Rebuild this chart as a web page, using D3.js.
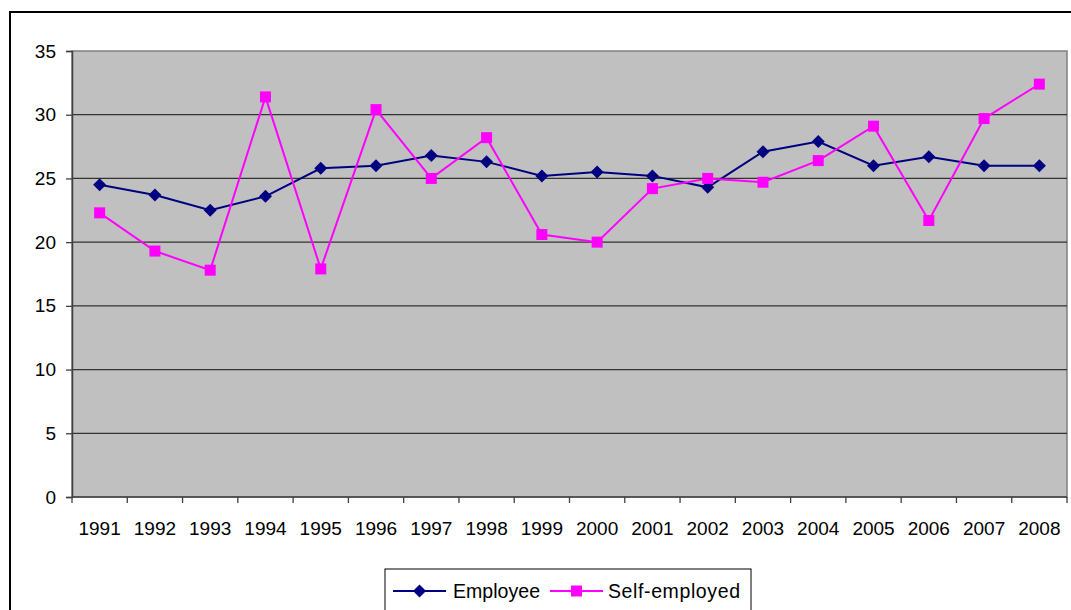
<!DOCTYPE html>
<html>
<head>
<meta charset="utf-8">
<script src="https://cdn.jsdelivr.net/npm/d3@7"></script>
<style>
  body { margin: 0; background: #fff; }
  text { font-family: "Liberation Sans", Arial, sans-serif; }
</style>
</head>
<body>
<script>
// chart data
const years = ['1991','1992','1993','1994','1995','1996','1997','1998','1999',
  '2000','2001','2002','2003','2004','2005','2006','2007','2008'];
const employee = [24.5, 23.7, 22.5, 23.6, 25.8, 26.0, 26.8, 26.3, 25.2,
  25.5, 25.2, 24.3, 27.1, 27.9, 26.0, 26.7, 26.0, 26.0];
const selfEmployed = [22.3, 19.3, 17.8, 31.4, 17.9, 30.4, 25.0, 28.2, 20.6,
  20.0, 24.2, 25.0, 24.7, 26.4, 29.1, 21.7, 29.7, 32.4];
const yTicks = [0, 5, 10, 15, 20, 25, 30, 35];
const seriesNames = ['Employee', 'Self-employed'];

const W = 1071, H = 610;
const plot = { left: 72, top: 51, right: 1067, bottom: 497 };

const svg = d3.select('body').append('svg')
  .attr('width', W).attr('height', H);

// outer chart border (runs off the right/bottom edge)
svg.append('rect')
  .attr('x', 10).attr('y', 12)
  .attr('width', W + 20).attr('height', H + 20)
  .attr('fill', '#fff').attr('stroke', '#000').attr('stroke-width', 2);

const x = d3.scaleBand().domain(years).range([plot.left, plot.right]);
const y = d3.scaleLinear().domain([0, 35]).range([plot.bottom, plot.top]);

// plot area
svg.append('rect')
  .attr('x', plot.left).attr('y', plot.top)
  .attr('width', plot.right - plot.left).attr('height', plot.bottom - plot.top)
  .attr('fill', '#c0c0c0').attr('stroke', '#808080').attr('stroke-width', 1.5);

// gridlines
svg.append('g').selectAll('line')
  .data(yTicks.filter(d => d > 0 && d < 35))
  .join('line')
  .attr('x1', plot.left).attr('x2', plot.right)
  .attr('y1', d => y(d)).attr('y2', d => y(d))
  .attr('stroke', '#333').attr('stroke-width', 1.3);

// y axis
const yAxis = svg.append('g')
  .attr('transform', 'translate(' + plot.left + ',0)')
  .call(d3.axisLeft(y).tickValues(yTicks).tickSize(6).tickPadding(10));
yAxis.select('.domain').attr('stroke', '#404040').attr('stroke-width', 1.5);
yAxis.selectAll('.tick line').attr('stroke', '#404040').attr('stroke-width', 1.3);
yAxis.selectAll('text').attr('font-size', 19).attr('fill', '#000')
  .attr('font-family', '"Liberation Sans", Arial, sans-serif');

// x axis: ticks at band boundaries
const xAxis = svg.append('g')
  .attr('transform', 'translate(0,' + plot.bottom + ')');
xAxis.append('line')
  .attr('x1', plot.left).attr('x2', plot.right)
  .attr('stroke', '#404040').attr('stroke-width', 1.5);
xAxis.selectAll('line.tk')
  .data(years.concat(['end']))
  .join('line').attr('class', 'tk')
  .attr('x1', (d, i) => plot.left + i * x.bandwidth())
  .attr('x2', (d, i) => plot.left + i * x.bandwidth())
  .attr('y1', 0).attr('y2', 6)
  .attr('stroke', '#404040').attr('stroke-width', 1.3);
xAxis.selectAll('text')
  .data(years)
  .join('text')
  .attr('x', d => x(d) + x.bandwidth() / 2)
  .attr('y', 31)
  .attr('dy', '0.35em')
  .attr('text-anchor', 'middle')
  .attr('font-size', 19)
  .text(d => d);

const line = d3.line()
  .x((d, i) => x(years[i]) + x.bandwidth() / 2)
  .y(d => y(d));

const diamond = s => 'M0,' + (-s) + 'L' + s + ',0L0,' + s + 'L' + (-s) + ',0Z';

// employee
svg.append('path').datum(employee)
  .attr('fill', 'none').attr('stroke', '#000080').attr('stroke-width', 2)
  .attr('d', line);
svg.append('g').selectAll('path')
  .data(employee)
  .join('path')
  .attr('transform', (d, i) => 'translate(' + (x(years[i]) + x.bandwidth() / 2) + ',' + y(d) + ')')
  .attr('d', diamond(6.5))
  .attr('fill', '#000080');

// self-employed
svg.append('path').datum(selfEmployed)
  .attr('fill', 'none').attr('stroke', '#ff00ff').attr('stroke-width', 2)
  .attr('d', line);
svg.append('g').selectAll('rect')
  .data(selfEmployed)
  .join('rect')
  .attr('x', (d, i) => x(years[i]) + x.bandwidth() / 2 - 5.5)
  .attr('y', d => y(d) - 5.5)
  .attr('width', 11).attr('height', 11)
  .attr('fill', '#ff00ff');

// legend
const legend = svg.append('g');
legend.append('rect')
  .attr('x', 385).attr('y', 569)
  .attr('width', 366).attr('height', 60)
  .attr('fill', '#fff').attr('stroke', '#000').attr('stroke-width', 1);

const legItems = [
  { name: seriesNames[0], color: '#000080', x0: 393, tx: 453, len: 87, mark: 'diamond' },
  { name: seriesNames[1], color: '#ff00ff', x0: 550, tx: 608, len: 132, mark: 'square' }
];
const ly = 591;
legItems.forEach(it => {
  legend.append('line')
    .attr('x1', it.x0).attr('x2', it.x0 + 53)
    .attr('y1', ly).attr('y2', ly)
    .attr('stroke', it.color).attr('stroke-width', 2);
  if (it.mark === 'diamond') {
    legend.append('path')
      .attr('transform', 'translate(' + (it.x0 + 26.5) + ',' + ly + ')')
      .attr('d', diamond(6.5)).attr('fill', it.color);
  } else {
    legend.append('rect')
      .attr('x', it.x0 + 26.5 - 5.5).attr('y', ly - 5.5)
      .attr('width', 11).attr('height', 11).attr('fill', it.color);
  }
  legend.append('text')
    .attr('x', it.tx).attr('y', ly).attr('dy', '0.35em')
    .attr('font-size', 19.5)
    .attr('textLength', it.len).attr('lengthAdjust', 'spacing')
    .text(it.name);
});
</script>
</body>
</html>
